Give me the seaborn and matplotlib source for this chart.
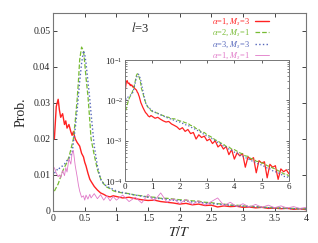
import matplotlib
matplotlib.use("Agg")
import matplotlib.pyplot as plt
import numpy as np
import seaborn as sns

# temperature grid T/Tc
t = [0.02, 0.05, 0.08, 0.10, 0.12, 0.15, 0.18, 0.20, 0.22, 0.25, 0.28, 0.30, 0.32, 0.35, 0.38,
     0.40, 0.42, 0.45, 0.48, 0.50, 0.52, 0.55, 0.58, 0.60, 0.65, 0.70, 0.75, 0.80, 0.85, 0.90, 0.95,
     1.0, 1.1, 1.2, 1.3, 1.4, 1.5, 1.6, 1.7, 1.8, 1.9, 2.0, 2.1, 2.2, 2.3, 2.4, 2.5, 2.6, 2.7, 2.8, 2.9,
     3.0, 3.1, 3.2, 3.3, 3.4, 3.5, 3.6, 3.7, 3.8, 3.9, 4.0, 4.1, 4.2, 4.3, 4.4, 4.5, 4.6, 4.7, 4.8, 4.9,
     5.0, 5.1, 5.2, 5.3, 5.4, 5.5, 5.6, 5.7, 5.8, 5.9, 6.0]

# alpha=1, Ms=3
red = [0.020, 0.029, 0.031, 0.028, 0.026, 0.027, 0.024, 0.025, 0.023, 0.024, 0.022, 0.021, 0.022, 0.020, 0.019,
       0.0185, 0.018, 0.016, 0.015, 0.0135, 0.0125, 0.0105, 0.0088, 0.0082, 0.0068, 0.0058, 0.0050, 0.0046, 0.0041, 0.0039, 0.0042,
       0.0040, 0.0036, 0.0038, 0.0034, 0.0031, 0.0029, 0.0030, 0.0026, 0.0024, 0.0022, 0.0019, 0.0021, 0.0017, 0.0019, 0.0015, 0.0016,
       0.0011, 0.0014, 0.0012, 0.0013, 0.0010, 0.0011, 0.00085, 0.0010, 0.00070, 0.00080, 0.00062, 0.00072, 0.00045, 0.00060,
       0.00035, 0.00050, 0.00042, 0.00048, 0.00022, 0.00040, 0.00034, 0.00038, 0.00016, 0.00032, 0.00028, 0.00030, 0.00012,
       0.00026, 0.00022, 0.00024, 0.00011, 0.00020, 0.00017, 0.00019, 0.00015]

# alpha=2, Ms=1
green = [0.0055, 0.0065, 0.0075, 0.0085, 0.0095, 0.011, 0.0122, 0.0128, 0.0135, 0.015, 0.017, 0.0185, 0.020, 0.025, 0.031,
         0.036, 0.042, 0.0455, 0.0445, 0.041, 0.037, 0.032, 0.025, 0.020, 0.0155, 0.0115, 0.0090, 0.0075, 0.0066, 0.0062, 0.0056,
         0.0053, 0.0050, 0.0048, 0.0044, 0.0042, 0.0039, 0.0038, 0.0035, 0.0035, 0.0033, 0.0031, 0.0030, 0.0028, 0.0027, 0.0024, 0.0023,
         0.0020, 0.0019, 0.0016, 0.0016, 0.0014, 0.0013, 0.00118, 0.00105, 0.00098, 0.00088, 0.00082, 0.00072, 0.00070, 0.00062,
         0.00060, 0.00055, 0.00050, 0.00047, 0.00042, 0.00041, 0.00036, 0.00035, 0.00031, 0.00030, 0.00028, 0.00027, 0.00024,
         0.00023, 0.00021, 0.00020, 0.00018, 0.00017, 0.00015, 0.00015, 0.00013]

# alpha=3, Ms=3
blue = [0.0105, 0.011, 0.012, 0.0118, 0.0122, 0.0125, 0.013, 0.0135, 0.014, 0.0145, 0.0155, 0.016, 0.019, 0.023, 0.028,
        0.032, 0.036, 0.041, 0.0445, 0.0435, 0.041, 0.036, 0.031, 0.027, 0.018, 0.0125, 0.0088, 0.0075, 0.0068, 0.0064, 0.0060,
        0.0055, 0.0051, 0.0047, 0.0044, 0.0041, 0.0038, 0.0036, 0.0034, 0.0032, 0.0030, 0.0029, 0.0027, 0.0025, 0.0024, 0.0022, 0.0020,
        0.0019, 0.0017, 0.0016, 0.0014, 0.0013, 0.0012, 0.0011, 0.0010, 0.00090, 0.00084, 0.00074, 0.00070, 0.00062, 0.00058,
        0.00052, 0.00050, 0.00044, 0.00042, 0.00038, 0.00036, 0.00032, 0.00031, 0.00028, 0.00026, 0.00025, 0.00023, 0.00021,
        0.00020, 0.00018, 0.00017, 0.00016, 0.00015, 0.00013, 0.00013, 0.00012]

# alpha=1, Ms=1
pink = [0.012, 0.0105, 0.0095, 0.0100, 0.0092, 0.0112, 0.0098, 0.0120, 0.0108, 0.0145, 0.0130, 0.0160, 0.0168, 0.0125, 0.0095,
        0.0072, 0.0055, 0.0038, 0.0042, 0.0030, 0.0044, 0.0033, 0.0046, 0.0036, 0.0048, 0.0034, 0.0045, 0.0030, 0.0042, 0.0028, 0.0040,
        0.0030, 0.0044, 0.0026, 0.0038, 0.0022, 0.0046, 0.0028, 0.0050, 0.0024, 0.0034, 0.0020, 0.0032, 0.0018, 0.0028, 0.0016, 0.0026,
        0.0036, 0.0015, 0.0024, 0.0012, 0.0020, 0.0011, 0.0018, 0.0010, 0.0016, 0.0009, 0.0014, 0.0008, 0.0012, 0.0007,
        0.0010, 0.0006, 0.0009, 0.0005, 0.0008, 0.0005, 0.0007, 0.0004, 0.0006, 0.0004, 0.0005, 0.0003, 0.0004,
        0.0003, 0.0004, 0.0002, 0.0003, 0.0002, 0.0003, 0.0002, 0.0002]

labels = [r"$\alpha$=1, $M_s$=3", r"$\alpha$=2, $M_s$=1", r"$\alpha$=3, $M_s$=3", r"$\alpha$=1, $M_s$=1"]
colors = ["#ff2222", "#77bb33", "#5566bb", "#e078c8"]
styles = ["-", "--", ":", "-"]
widths = [1.0, 0.9, 1.0, 0.6]

sns.set_style("ticks")
plt.rcParams["font.family"] = ["Liberation Serif", "DejaVu Serif"]
plt.rcParams["mathtext.fontset"] = "stix"
plt.rcParams["font.size"] = 7

fig = plt.figure(figsize=(3.18, 2.43), dpi=100)
ax = fig.add_axes([0.167, 0.132, 0.796, 0.815])

for y, c, ls, lw, lab in zip([red, green, blue, pink], colors, styles, widths, labels):
    sns.lineplot(x=t, y=y, ax=ax, color=c, linestyle=ls, linewidth=lw, label=lab)

ax.set_xlim(0, 4)
ax.set_ylim(0, 0.055)
ax.set_xticks([0, 0.5, 1, 1.5, 2, 2.5, 3, 3.5, 4])
ax.set_xticklabels(["0", "0.5", "1", "1.5", "2", "2.5", "3", "3.5", "4"])
ax.set_yticks([0, 0.01, 0.02, 0.03, 0.04, 0.05])
ax.set_yticklabels(["0", "0.01", "0.02", "0.03", "0.04", "0.05"])
ax.tick_params(direction="in", top=True, right=True, length=3, width=0.6, labelsize=7, pad=2)
for s in ax.spines.values():
    s.set_color("#777777")
    s.set_linewidth(0.8)
ax.set_xlabel("$T/T$", fontsize=10, labelpad=2)
ax.set_ylabel("Prob.", fontsize=10, labelpad=4)
ax.text(0.345, 0.925, "$l$=3", transform=ax.transAxes, ha="center", va="center", fontsize=9)

leg = ax.legend(loc="upper right", bbox_to_anchor=(0.86, 0.99), frameon=False, markerfirst=False,
                fontsize=6, handlelength=1.7, handletextpad=0.6, labelspacing=0.12,
                borderaxespad=0.0, borderpad=0.2, labelcolor="linecolor")

# inset with log scale
ins = fig.add_axes([0.393, 0.255, 0.516, 0.498])
for y, c, ls, lw in zip([red, green, blue], colors, styles, widths):
    sns.lineplot(x=t, y=y, ax=ins, color=c, linestyle=ls, linewidth=lw * 0.9, legend=False)
ins.set_yscale("log")
ins.set_xlim(0, 6)
ins.set_ylim(1e-4, 1e-1)
ins.set_xticks([0, 1, 2, 3, 4, 5, 6])
ins.set_xticklabels(["0", "1", "2", "3", "4", "5", "6"])
ins.tick_params(direction="in", top=True, right=True, length=2.5, width=0.5, labelsize=6.5, pad=1.5)
ins.tick_params(which="minor", direction="in", length=1.3, width=0.4, right=True)
for s in ins.spines.values():
    s.set_color("#777777")
    s.set_linewidth(0.7)
ins.set_xlabel("")
ins.set_ylabel("")

fig.savefig("out.png", dpi=100)
